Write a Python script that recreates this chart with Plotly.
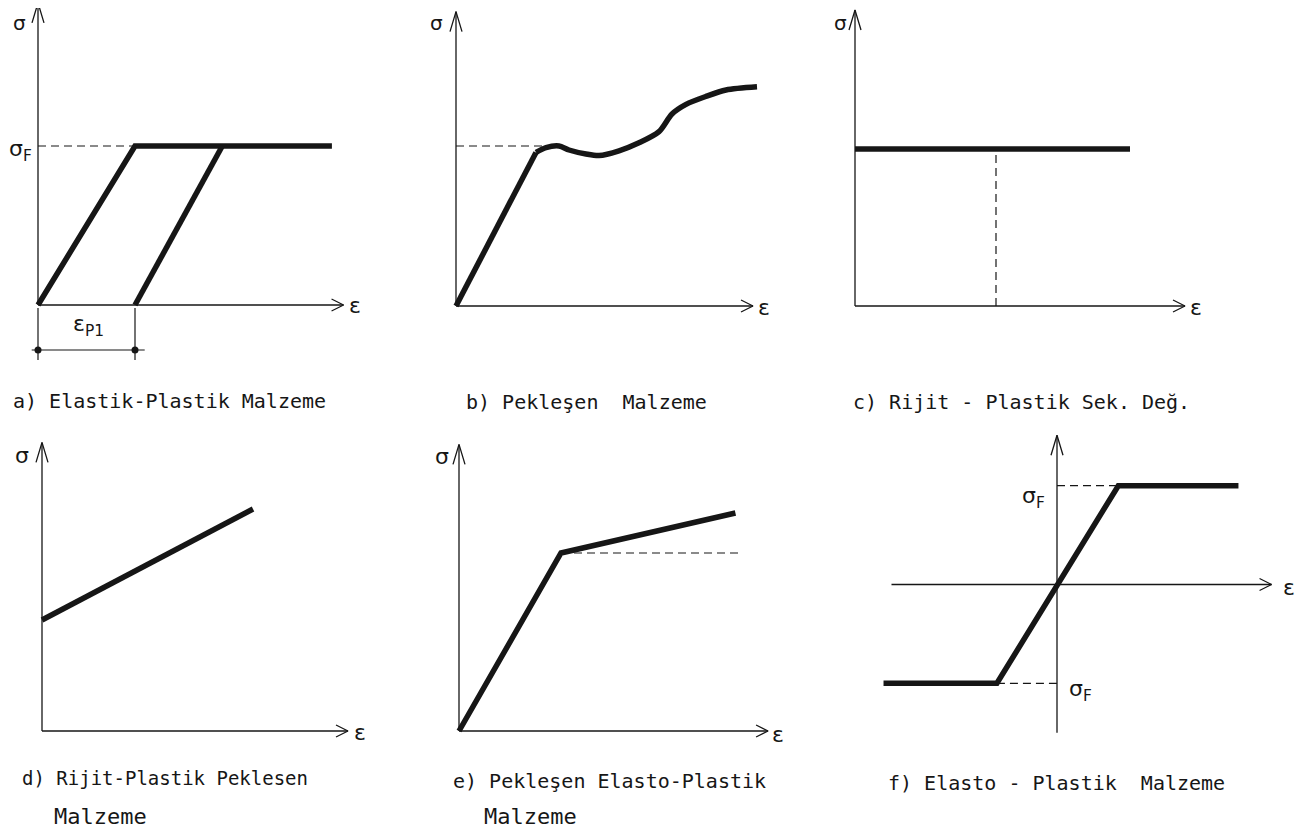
import plotly.graph_objects as go

W, H = 1303, 832
OFF = 8  # default body margin of the html page
FW, FH = W - OFF, H - OFF
INK = "#161616"
FONT = "DejaVu Sans"
CAP_FONT = "DejaVu Sans Mono"

# a) Elastik-Plastik Malzeme  (sigma_F = 1, yield strain = 1)
a_load_eps = [0, 1.0, 3.03]
a_load_sig = [0, 1.0, 1.0]
a_unload_eps = [1.0, 1.9]
a_unload_sig = [0, 1.0]
a_eps_p1 = 1.0

# b) Pekleşen Malzeme
b_elastic_eps = [0, 0.80]
b_elastic_sig = [0, 0.96]
b_harden_eps = [0.80, 0.90, 1.03, 1.13, 1.30, 1.43, 1.63, 1.83, 2.03, 2.16, 2.30, 2.50, 2.70, 3.01]
b_harden_sig = [0.96, 0.99, 1.00, 0.975, 0.95, 0.94, 0.97, 1.02, 1.09, 1.20, 1.26, 1.31, 1.35, 1.37]
b_sig_f = 1.0

# c) Rijit-Plastik
c_eps = [0, 2.75]
c_sig = [1.0, 1.0]
c_eps_mark = 1.41

# d) Rijit-Plastik Peklesen
d_eps = [0, 2.11]
d_sig = [1.0, 2.0]

# e) Pekleşen Elasto-Plastik
e_eps = [0, 1.0, 2.71]
e_sig = [0, 1.0, 1.225]
e_dash_end = 2.77

# f) Elasto-Plastik (tension / compression)
f_eps = [-2.83, -0.98, 1.0, 2.96]
f_sig = [-1.0, -1.0, 1.0, 1.0]

# panel frames: pixel box, origin pixel, px per unit, axis extents
PANELS = {
    "a": dict(box=(8, 8, 430, 370), origin=(38, 305), s=(97, 159), ax=(0, 3.15), ay=(0, 1.9)),
    "b": dict(box=(430, 8, 830, 370), origin=(456, 306), s=(100, 160), ax=(0, 2.97), ay=(0, 1.84)),
    "c": dict(box=(830, 8, 1303, 370), origin=(855, 306), s=(100, 157), ax=(0, 3.30), ay=(0, 1.885)),
    "d": dict(box=(8, 420, 430, 760), origin=(42, 731), s=(100, 111), ax=(0, 3.06), ay=(0, 2.6)),
    "e": dict(box=(430, 420, 850, 760), origin=(459, 731), s=(102, 178), ax=(0, 3.03), ay=(0, 1.61)),
    "f": dict(box=(860, 420, 1303, 760), origin=(1057, 584.5), s=(61.3, 98.8), ax=(-2.70, 3.50), ay=(-1.5, 1.51)),
}

fig = go.Figure()
layout_axes = {}
refs = {}

for i, (key, p) in enumerate(PANELS.items(), start=1):
    l, t, r, b = p["box"]
    ox, oy = p["origin"]
    sx, sy = p["s"]
    sfx = "" if i == 1 else str(i)
    layout_axes["xaxis" + sfx] = dict(
        domain=[(l - OFF) / FW, (r - OFF) / FW], range=[(l - ox) / sx, (r - ox) / sx],
        visible=False, anchor="y" + sfx, fixedrange=True,
    )
    layout_axes["yaxis" + sfx] = dict(
        domain=[1 - (b - OFF) / FH, 1 - (t - OFF) / FH], range=[(oy - b) / sy, (oy - t) / sy],
        visible=False, anchor="x" + sfx, fixedrange=True,
    )
    refs[key] = ("x" + sfx, "y" + sfx)


def line(key, x, y, width=1.3, dash=None, shape="linear"):
    xr, yr = refs[key]
    fig.add_trace(go.Scatter(
        x=x, y=y, xaxis=xr, yaxis=yr, mode="lines",
        line=dict(color=INK, width=width, dash=dash, shape=shape, smoothing=0.8),
        showlegend=False, hoverinfo="skip",
    ))


def axes(key):
    p = PANELS[key]
    sx, sy = p["s"]
    x0, x1 = p["ax"]
    y0, y1 = p["ay"]
    line(key, [x0, x1], [0, 0])
    line(key, [0, 0], [y0, y1])
    # open arrow heads
    line(key, [x1 - 12 / sx, x1, x1 - 12 / sx], [6 / sy, 0, -6 / sy])
    line(key, [-6 / sx, 0, 6 / sx], [y1 - 20 / sy, y1, y1 - 20 / sy])


THICK = 5.5
DASH = "8px,5px"

# a
axes("a")
line("a", a_load_eps, a_load_sig, THICK)
line("a", a_unload_eps, a_unload_sig, THICK)
line("a", [0, a_load_eps[1]], [1.0, 1.0], 1.2, DASH)
sa = PANELS["a"]["s"][1]
line("a", [0, 0], [-3 / sa, -55 / sa], 1.2)
line("a", [a_eps_p1, a_eps_p1], [-3 / sa, -55 / sa], 1.2)
line("a", [-0.065, a_eps_p1 + 0.1], [-45 / sa, -45 / sa], 1.2)
fig.add_trace(go.Scatter(
    x=[0, a_eps_p1], y=[-45 / sa, -45 / sa], xaxis=refs["a"][0], yaxis=refs["a"][1],
    mode="markers", marker=dict(color=INK, size=7), showlegend=False, hoverinfo="skip",
))

# b
axes("b")
line("b", [0, b_harden_eps[1]], [b_sig_f, b_sig_f], 1.2, DASH)
line("b", b_elastic_eps, b_elastic_sig, THICK)
line("b", b_harden_eps, b_harden_sig, THICK, shape="spline")

# c
axes("c")
line("c", [c_eps_mark, c_eps_mark], [0, 1.0], 1.2, DASH)
line("c", c_eps, c_sig, THICK)

# d
axes("d")
line("d", d_eps, d_sig, THICK)

# e
axes("e")
line("e", [e_eps[1], e_dash_end], [e_sig[1], e_sig[1]], 1.2, DASH)
line("e", e_eps, e_sig, THICK)

# f
axes("f")
line("f", [0, f_eps[2]], [1.0, 1.0], 1.2, DASH)
line("f", [f_eps[1], 0], [-1.0, -1.0], 1.2, DASH)
line("f", f_eps, f_sig, THICK)


def label(px, py, text, size=22, anchor="center", family=FONT):
    fig.add_annotation(
        x=(px - OFF) / FW, y=1 - (py - OFF) / FH, xref="paper", yref="paper", text=text,
        showarrow=False, xanchor=anchor, yanchor="middle",
        font=dict(family=family, size=size, color=INK),
    )


SIG_F = "σ<sub>F</sub>"
label(19, 23, "σ", 20)
label(20, 151, SIG_F)
label(355, 305, "ε")
label(88, 326, "ε<sub>P1</sub>")
label(436, 23, "σ", 20)
label(764, 307, "ε")
label(840, 23, "σ", 20)
label(1196, 307, "ε")
label(22, 455, "σ")
label(360, 732, "ε")
label(442, 456, "σ")
label(778, 734, "ε")
label(1033, 497, SIG_F)
label(1080, 690, SIG_F)
label(1289, 587, "ε")


def caption(px, py, text, size=20):
    label(px, py, text, size, "left", CAP_FONT)


caption(11, 401, "a) Elastik-Plastik Malzeme")
caption(464, 402, "b) Pekleşen  Malzeme")
caption(851, 402, "c) Rijit - Plastik Sek. Değ.")
caption(20, 778, "d) Rijit-Plastik Peklesen", 19)
caption(52, 816, "Malzeme", 22)
caption(451, 781, "e) Pekleşen Elasto-Plastik")
caption(482, 816, "Malzeme", 22)
caption(886, 783, "f) Elasto - Plastik  Malzeme")

fig.update_layout(
    **layout_axes,
    width=FW, height=FH,
    margin=dict(l=0, r=0, t=0, b=0),
    paper_bgcolor="white", plot_bgcolor="rgba(0,0,0,0)",
    showlegend=False,
)

fig.write_html("out.html")
